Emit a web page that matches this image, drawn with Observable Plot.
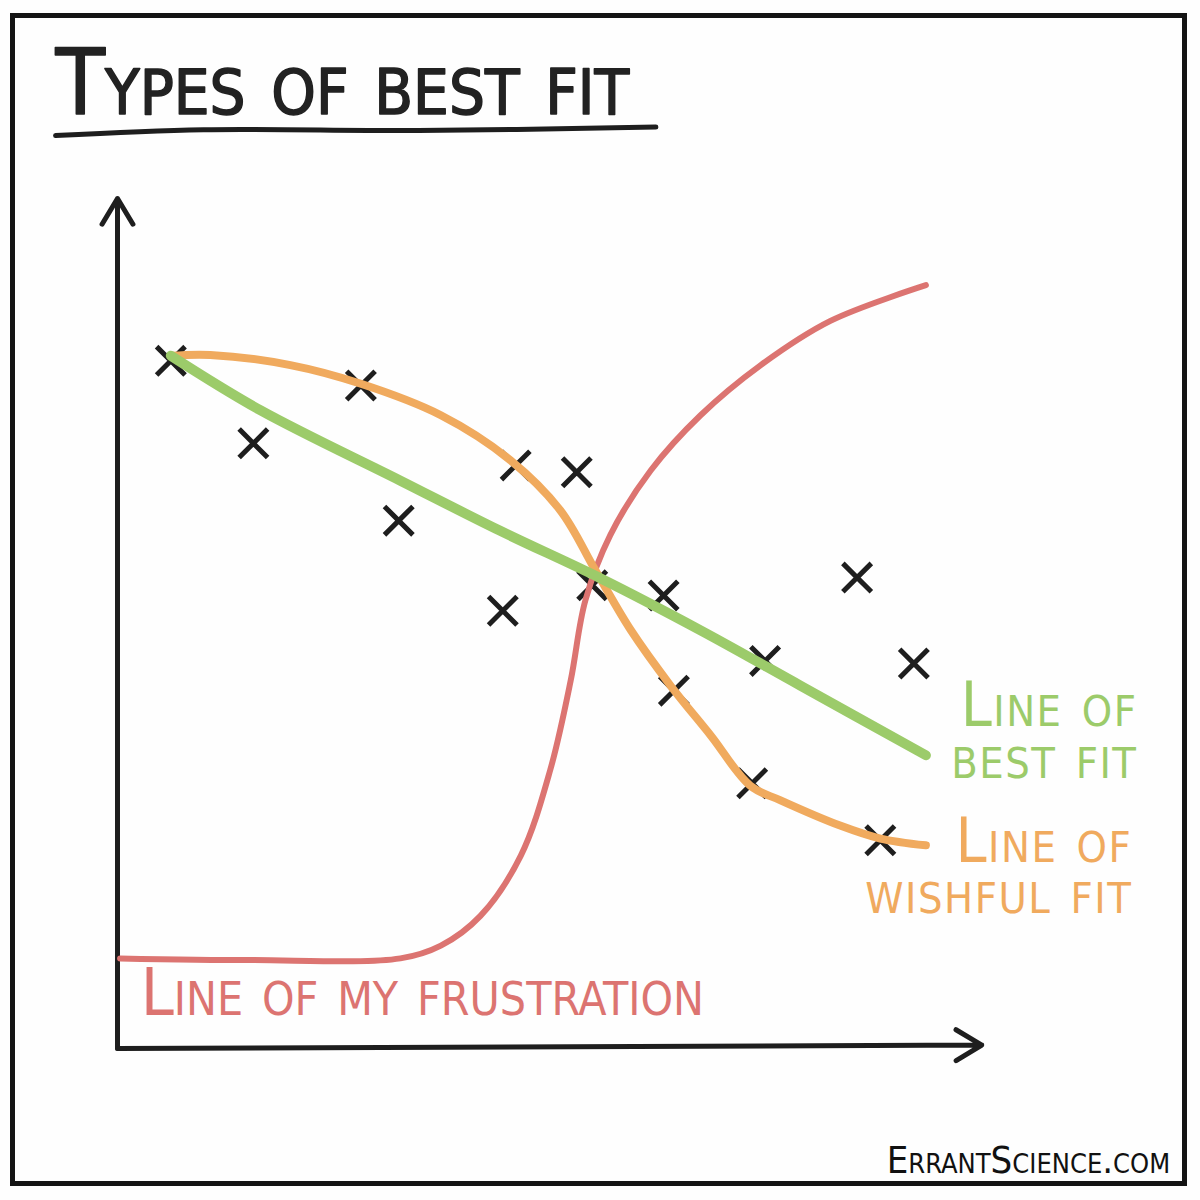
<!DOCTYPE html>
<html>
<head>
<meta charset="utf-8">
<script src="https://cdn.jsdelivr.net/npm/d3@7"></script>
<script src="https://cdn.jsdelivr.net/npm/@observablehq/plot@0.6"></script>
<style>
  body { margin: 0; background: #fefefe; }
  #wrap { position: relative; width: 1200px; height: 1200px; overflow: hidden; background: #fefefe; }
  #border { position: absolute; left: 10px; top: 13px; width: 1167px; height: 1163px; border: 5px solid #141414; }
  #chart { position: absolute; left: 0; top: 0; }
</style>
</head>
<body>
<div id="wrap">
  <div id="border"></div>
  <div id="chart"></div>
</div>
<script>
// ---- data (chart units: 0..100 on both axes) ----
const pointX = [6.2, 15.8, 28.3, 32.7, 44.8, 46.3, 53.4, 55.2, 63.5, 64.7, 75.3, 73.8, 86.0, 92.6, 88.7];
const pointY = [80.9, 71.2, 78.0, 62.1, 51.5, 68.6, 67.8, 54.5, 53.3, 42.1, 45.6, 31.2, 55.4, 45.3, 24.5];

const bestFitX = [6.2, 16.6, 32.9, 44.5, 56.2, 67.8, 79.4, 94.0];
const bestFitY = [81.5, 75.1, 66.8, 60.9, 55.3, 49.2, 42.7, 34.5];

const wishfulX = [6.2, 10.8, 20.1, 28.3, 37.6, 45.7, 51.5, 55.6, 59.7, 64.3, 69.0, 73.6, 77.1, 84.1, 88.7, 94.0];
const wishfulY = [81.5, 81.6, 80.4, 78.2, 74.5, 69.2, 63.3, 56.2, 49.2, 42.7, 36.8, 30.9, 29.2, 26.2, 24.7, 23.9];

const frustrationX = [0.3, 15.5, 32.9, 37.6, 42.2, 46.9, 50.3, 52.7, 54.4, 57.3, 62.0, 67.8, 74.8, 82.9, 94.0];
const frustrationY = [10.6, 10.4, 10.6, 12.1, 15.6, 22.7, 32.7, 43.3, 52.7, 60.4, 68.0, 74.5, 80.4, 85.6, 89.8];

const axisLines = [
  {x1: 0, y1: 0, x2: 0, y2: 100},
  {x1: 0, y1: 0, x2: 100.5, y2: 0.4}
];

const titleText = "Types of best fit";
const creditText = "ErrantScience.com";
const labelBest = "Line of\nbest fit";
const labelWishful = "Line of\nwishful fit";
const labelFrustration = "Line of my frustration";

// underline under the title (chart units)
const underlineX = [-7.2, 10, 35, 62.6];
const underlineY = [107.4, 108.1, 108.0, 108.4];

// ---- build tables ----
const points = pointX.map((x, i) => ({x, y: pointY[i]}));
const best = bestFitX.map((x, i) => ({x, y: bestFitY[i]}));
const wishful = wishfulX.map((x, i) => ({x, y: wishfulY[i]}));
const frustration = frustrationX.map((x, i) => ({x, y: frustrationY[i]}));
const underline = underlineX.map((x, i) => ({x, y: underlineY[i]}));

const FONT = '"DejaVu Sans Condensed", "Liberation Sans Narrow", "DejaVu Sans", sans-serif';
const GREEN = "#9ccb6a", ORANGE = "#f0aa5e", RED = "#dc7471", INK = "#1e1e1e";

const chart = Plot.plot({
  width: 1200,
  height: 1200,
  margin: 0,
  x: {domain: [0, 100], range: [117, 977], axis: null},
  y: {domain: [0, 100], range: [1048, 198], axis: null},
  style: {background: "transparent", overflow: "visible"},
  marks: [
    Plot.arrow(axisLines, {x1: "x1", y1: "y1", x2: "x2", y2: "y2", stroke: INK, strokeWidth: 5, headLength: 9, headAngle: 62, strokeLinecap: "round"}),
    Plot.dot(points, {x: "x", y: "y", symbol: "times", r: 13, stroke: INK, strokeWidth: 5}),
    Plot.line(frustration, {x: "x", y: "y", curve: "catmull-rom", stroke: RED, strokeWidth: 6}),
    Plot.line(wishful, {x: "x", y: "y", curve: "catmull-rom", stroke: ORANGE, strokeWidth: 8}),
    Plot.line(best, {x: "x", y: "y", curve: "catmull-rom", stroke: GREEN, strokeWidth: 10}),
    Plot.line(underline, {x: "x", y: "y", curve: "catmull-rom", stroke: INK, strokeWidth: 5}),
    Plot.text([titleText], {x: -7.2, y: 110.0, text: d => d, textAnchor: "start", lineAnchor: "bottom", fontSize: 90, fontFamily: FONT, fontVariant: "small-caps", fill: "#222", stroke: "#222", strokeWidth: 1.5}),
    Plot.text([labelBest], {x: 118.6, y: 31.8, text: d => d, textAnchor: "end", lineAnchor: "bottom", lineHeight: 0.84, fontSize: 62, fontFamily: FONT, fontVariant: "small-caps", fill: GREEN}),
    Plot.text([labelWishful], {x: 118.0, y: 16.0, text: d => d, textAnchor: "end", lineAnchor: "bottom", lineHeight: 0.81, fontSize: 62, fontFamily: FONT, fontVariant: "small-caps", fill: ORANGE}),
    Plot.text([labelFrustration], {x: 2.7, y: 3.9, text: d => d, textAnchor: "start", lineAnchor: "bottom", fontSize: 66, fontFamily: FONT, fontVariant: "small-caps", fill: RED}),
    Plot.text([creditText], {x: 122.4, y: -14.6, text: d => d, textAnchor: "end", lineAnchor: "bottom", fontSize: 38, fontFamily: FONT, fontVariant: "small-caps", fill: "#111"})
  ]
});
// slightly wider lettering for the two right-hand labels
const textGroups = chart.querySelectorAll('g[aria-label="text"]');
[1, 2].forEach(i => { if (textGroups[i]) textGroups[i].setAttribute("letter-spacing", "1.5"); });
document.getElementById("chart").appendChild(chart);
</script>
</body>
</html>
